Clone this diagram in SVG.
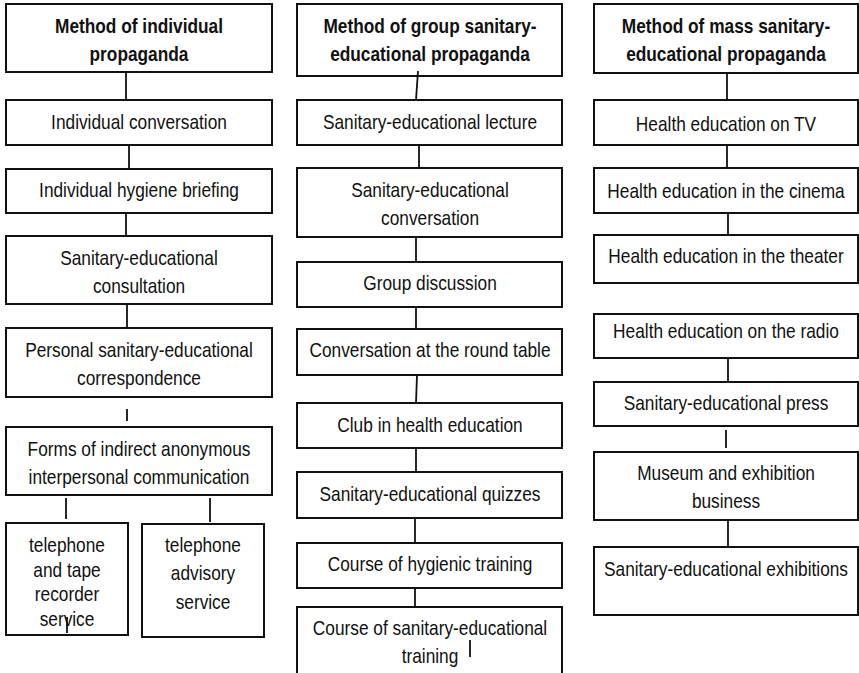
<svg xmlns="http://www.w3.org/2000/svg" width="859" height="673" viewBox="0 0 859 673">
  <style>
    rect { fill: #fff; stroke: #111; stroke-width: 2; }
    text { font-family: "Liberation Sans", Arial, sans-serif; font-size: 17.3px; fill: #111; text-anchor: middle; }
    text.t { font-weight: bold; }
    #connectors line { stroke: #111; stroke-width: 1.8; }
  </style>
  <rect x="0" y="0" width="859" height="673" style="fill:#fff;stroke:none"/>

  <!-- Column 1: individual propaganda -->
  <g id="c1-title"><rect x="6" y="4" width="266" height="68"/>
    <text class="t" transform="translate(139 33) scale(1 1.13)"><tspan x="0">Method of individual</tspan><tspan x="0" dy="24.8">propaganda</tspan></text></g>
  <g id="c1-n1"><rect x="6" y="100" width="266" height="45"/>
    <text transform="translate(139 129) scale(1 1.13)">Individual conversation</text></g>
  <g id="c1-n2"><rect x="6" y="169" width="266" height="44"/>
    <text transform="translate(139 197) scale(1 1.13)">Individual hygiene briefing</text></g>
  <g id="c1-n3"><rect x="6" y="236" width="266" height="68"/>
    <text transform="translate(139 265) scale(1 1.13)"><tspan x="0">Sanitary-educational</tspan><tspan x="0" dy="24.8">consultation</tspan></text></g>
  <g id="c1-n4"><rect x="6" y="328" width="266" height="69"/>
    <text transform="translate(139 357) scale(1 1.13)"><tspan x="0">Personal sanitary-educational</tspan><tspan x="0" dy="24.8">correspondence</tspan></text></g>
  <g id="c1-n5"><rect x="6" y="427" width="266" height="68"/>
    <text transform="translate(139 456) scale(1 1.13)"><tspan x="0">Forms of indirect anonymous</tspan><tspan x="0" dy="24.8">interpersonal communication</tspan></text></g>
  <g id="c1-n6"><rect x="6" y="523" width="122" height="112"/>
    <text transform="translate(67 552) scale(1 1.13)"><tspan x="0">telephone</tspan><tspan x="0" dy="21.9">and tape</tspan><tspan x="0" dy="21.9">recorder</tspan><tspan x="0" dy="21.9">service</tspan></text></g>
  <g id="c1-n7"><rect x="142" y="524" width="122" height="113"/>
    <text transform="translate(203 552) scale(1 1.13)"><tspan x="0">telephone</tspan><tspan x="0" dy="25.2">advisory</tspan><tspan x="0" dy="25.2">service</tspan></text></g>

  <!-- Column 2: group propaganda -->
  <g id="c2-title"><rect x="297" y="4" width="265" height="72"/>
    <text class="t" transform="translate(430 33) scale(1 1.13)"><tspan x="0">Method of group sanitary-</tspan><tspan x="0" dy="24.8">educational propaganda</tspan></text></g>
  <g id="c2-n1"><rect x="297" y="100" width="265" height="45"/>
    <text transform="translate(430 129) scale(1 1.13)">Sanitary-educational lecture</text></g>
  <g id="c2-n2"><rect x="297" y="168" width="265" height="69"/>
    <text transform="translate(430 197) scale(1 1.13)"><tspan x="0">Sanitary-educational</tspan><tspan x="0" dy="24.8">conversation</tspan></text></g>
  <g id="c2-n3"><rect x="297" y="262" width="265" height="45"/>
    <text transform="translate(430 290) scale(1 1.13)">Group discussion</text></g>
  <g id="c2-n4"><rect x="297" y="329" width="265" height="46"/>
    <text transform="translate(430 357) scale(1 1.13)">Conversation at the round table</text></g>
  <g id="c2-n5"><rect x="297" y="403" width="265" height="45"/>
    <text transform="translate(430 432) scale(1 1.13)">Club in health education</text></g>
  <g id="c2-n6"><rect x="297" y="472" width="265" height="46"/>
    <text transform="translate(430 501) scale(1 1.13)">Sanitary-educational quizzes</text></g>
  <g id="c2-n7"><rect x="297" y="543" width="265" height="45"/>
    <text transform="translate(430 571) scale(1 1.13)">Course of hygienic training</text></g>
  <g id="c2-n8"><rect x="297" y="607" width="265" height="80"/>
    <text transform="translate(430 635) scale(1 1.13)"><tspan x="0">Course of sanitary-educational</tspan><tspan x="0" dy="24.8">training</tspan></text></g>

  <!-- Column 3: mass propaganda -->
  <g id="c3-title"><rect x="594" y="4" width="264" height="69"/>
    <text class="t" transform="translate(726 33) scale(1 1.13)"><tspan x="0">Method of mass sanitary-</tspan><tspan x="0" dy="24.8">educational propaganda</tspan></text></g>
  <g id="c3-n1"><rect x="594" y="100" width="264" height="45"/>
    <text transform="translate(726 131) scale(1 1.13)">Health education on TV</text></g>
  <g id="c3-n2"><rect x="594" y="168" width="264" height="45"/>
    <text transform="translate(726 198) scale(1 1.13)">Health education in the cinema</text></g>
  <g id="c3-n3"><rect x="594" y="235" width="264" height="48"/>
    <text transform="translate(726 263) scale(1 1.13)">Health education in the theater</text></g>
  <g id="c3-n4"><rect x="594" y="314" width="264" height="44"/>
    <text transform="translate(726 338) scale(1 1.13)">Health education on the radio</text></g>
  <g id="c3-n5"><rect x="594" y="382" width="264" height="44"/>
    <text transform="translate(726 410) scale(1 1.13)">Sanitary-educational press</text></g>
  <g id="c3-n6"><rect x="594" y="452" width="264" height="68"/>
    <text transform="translate(726 480) scale(1 1.13)"><tspan x="0">Museum and exhibition</tspan><tspan x="0" dy="24.8">business</tspan></text></g>
  <g id="c3-n7"><rect x="594" y="547" width="264" height="68"/>
    <text transform="translate(726 576) scale(1 1.13)">Sanitary-educational exhibitions</text></g>

  <!-- Connecting lines -->
  <g id="connectors">
    <line x1="126" y1="72" x2="126" y2="100"/>
    <line x1="129" y1="145" x2="129" y2="169"/>
    <line x1="126" y1="213" x2="126" y2="236"/>
    <line x1="127" y1="304" x2="127" y2="328"/>
    <line x1="127" y1="409" x2="127" y2="421"/>
    <line x1="66" y1="498" x2="66" y2="519"/>
    <line x1="210" y1="498" x2="210" y2="522"/>
    <line x1="67" y1="617" x2="67" y2="633"/>

    <line x1="418" y1="71" x2="416" y2="100"/>
    <line x1="419" y1="145" x2="419" y2="168"/>
    <line x1="416" y1="237" x2="416" y2="262"/>
    <line x1="416" y1="307" x2="416" y2="329"/>
    <line x1="417" y1="375" x2="416" y2="403"/>
    <line x1="416" y1="448" x2="416" y2="472"/>
    <line x1="415" y1="518" x2="415" y2="543"/>
    <line x1="415" y1="588" x2="415" y2="607"/>
    <line x1="470" y1="640" x2="470" y2="657"/>

    <line x1="727" y1="73" x2="727" y2="100"/>
    <line x1="727" y1="145" x2="727" y2="168"/>
    <line x1="728" y1="213" x2="728" y2="235"/>
    <line x1="728" y1="358" x2="728" y2="382"/>
    <line x1="726" y1="430" x2="726" y2="448"/>
    <line x1="728" y1="520" x2="728" y2="547"/>
  </g>
</svg>
